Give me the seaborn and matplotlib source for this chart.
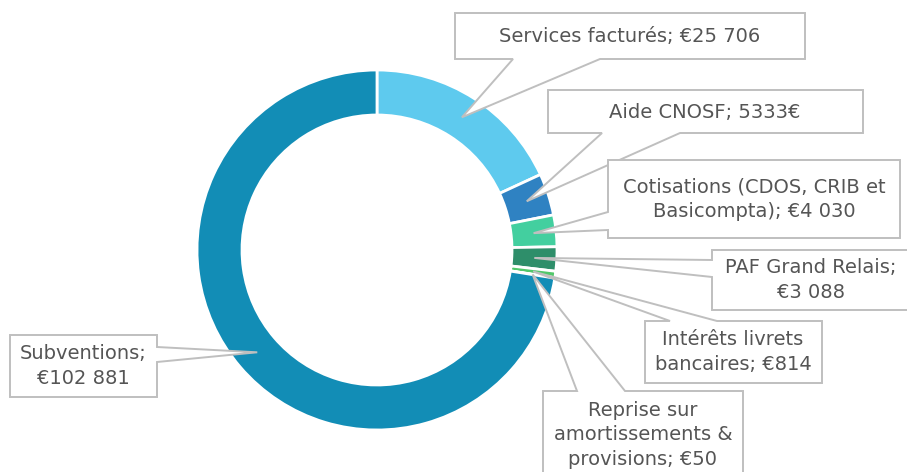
import numpy as np
import matplotlib
matplotlib.use("Agg")
import matplotlib.pyplot as plt
import seaborn as sns
from matplotlib.patches import Polygon

# data, clockwise from the top
categories = ["Services facturés", "Aide CNOSF", "Cotisations (CDOS, CRIB et Basicompta)",
              "PAF Grand Relais", "Intérêts livrets bancaires",
              "Reprise sur amortissements & provisions", "Subventions"]
values = [25706, 5333, 4030, 3088, 814, 50, 102881]
labels = ["Services facturés; €25 706",
          "Aide CNOSF; 5333€",
          "Cotisations (CDOS, CRIB et\nBasicompta); €4 030",
          "PAF Grand Relais;\n€3 088",
          "Intérêts livrets\nbancaires; €814",
          "Reprise sur\namortissements &\nprovisions; €50",
          "Subventions;\n€102 881"]
colors = ["#5ECAEE", "#2F82C2", "#43CF9F", "#2E8E6A", "#52C86A", "#7FD17F", "#128DB6"]

W, H = 907, 472
CX, CY, R = 377, 250, 180  # donut centre/radius in pixels (y from top)

# callout layout in pixels from top-left: box, side of the pointer, pointer base, text centre
callouts = [
    ((455, 13, 805, 59), "bottom", (513, 600), (630, 36)),
    ((548, 90, 863, 133), "bottom", (602, 680), (705, 112)),
    ((608, 160, 900, 238), "left", (212, 230), (754, 199)),
    ((712, 250, 912, 310), "left", (260, 277), (811, 280)),
    ((645, 321, 822, 383), "top", (670, 717), (733, 352)),
    ((543, 391, 743, 480), "top", (577, 625), (643, 435)),
    ((10, 335, 157, 397), "right", (347, 362), (83, 366)),
]

sns.set_theme(style="white")
plt.rcParams["font.family"] = ["DejaVu Sans"]

fig = plt.figure(figsize=(W / 100, H / 100), dpi=100)
ax = fig.add_axes([0, 0, 1, 1])

wedges, _ = ax.pie(values, colors=colors, startangle=90, counterclock=False,
                   radius=R, center=(CX, H - CY),
                   wedgeprops=dict(width=R * 0.25, edgecolor="white", linewidth=2))


def fy(y):
    return H - y


for w, (box, side, base, tpos), lab in zip(wedges, callouts, labels):
    mid = np.deg2rad((w.theta1 + w.theta2) / 2)
    tip = (CX + 0.875 * R * np.cos(mid), fy(CY) + 0.875 * R * np.sin(mid))
    x0, y0, x1, y1 = box
    a, b = base
    if side == "bottom":
        pts = [(x0, y0), (x1, y0), (x1, y1), (b, y1), None, (a, y1), (x0, y1)]
    elif side == "top":
        pts = [(x0, y0), (a, y0), None, (b, y0), (x1, y0), (x1, y1), (x0, y1)]
    elif side == "left":
        pts = [(x0, y0), (x1, y0), (x1, y1), (x0, y1), (x0, b), None, (x0, a)]
    else:
        pts = [(x0, y0), (x1, y0), (x1, a), None, (x1, b), (x1, y1), (x0, y1)]
    poly = [tip if p is None else (p[0], fy(p[1])) for p in pts]
    ax.add_patch(Polygon(poly, closed=True, facecolor="white", edgecolor="#BFBFBF",
                         linewidth=1.4, zorder=3))
    ax.text(tpos[0], fy(tpos[1]), lab, ha="center", va="center", fontsize=14,
            color="#555555", linespacing=1.35, zorder=4)

ax.set_xlim(0, W)
ax.set_ylim(0, H)
ax.set_aspect("equal")
ax.axis("off")
fig.savefig("out.png", dpi=100, facecolor="white")
